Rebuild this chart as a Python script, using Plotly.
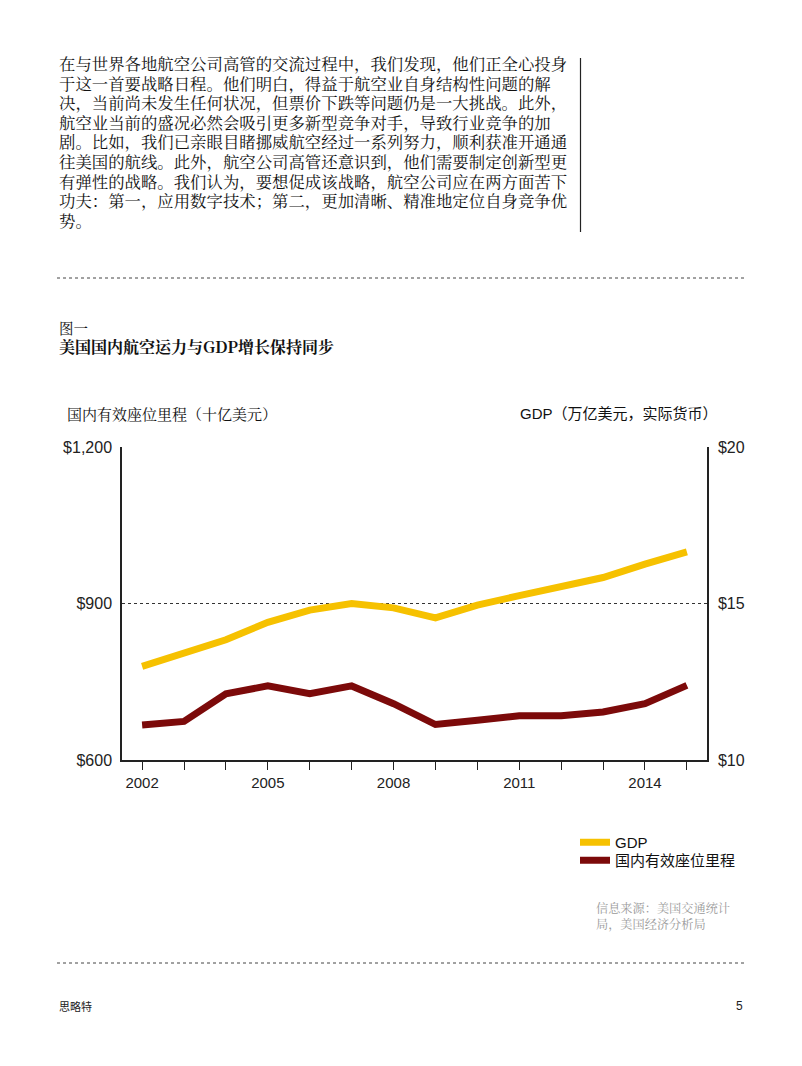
import plotly.graph_objects as go

# ---------------- data ----------------
years = list(range(2002, 2016))
gdp_trillion = [12.99, 13.41, 13.84, 14.40, 14.79, 15.00, 14.86, 14.54, 14.95, 15.25, 15.55, 15.83, 16.26, 16.65]
asm_billion = [667, 674, 727, 742, 727, 742, 708, 668, 676, 685, 685, 692, 708, 743]
x_labeled_years = [2002, 2005, 2008, 2011, 2014]
left_tick_vals = [600, 900, 1200]
left_tick_text = ["$600", "$900", "$1,200"]
right_tick_vals = [10, 15, 20]
right_tick_text = ["$10", "$15", "$20"]

series_names = ["GDP", "国内有效座位里程"]

body_lines = [
    "在与世界各地航空公司高管的交流过程中，我们发现，他们正全心投身",
    "于这一首要战略日程。他们明白，得益于航空业自身结构性问题的解",
    "决，当前尚未发生任何状况，但票价下跌等问题仍是一大挑战。此外，",
    "航空业当前的盛况必然会吸引更多新型竞争对手，导致行业竞争的加",
    "剧。比如，我们已亲眼目睹挪威航空经过一系列努力，顺利获准开通通",
    "往美国的航线。此外，航空公司高管还意识到，他们需要制定创新型更",
    "有弹性的战略。我们认为，要想促成该战略，航空公司应在两方面苦下",
    "功夫：第一，应用数字技术；第二，更加清晰、精准地定位自身竞争优",
    "势。",
]
fig_label = "图一"
fig_title = "美国国内航空运力与GDP增长保持同步"
left_axis_title = "国内有效座位里程（十亿美元）"
right_axis_title = "GDP（万亿美元，实际货币）"
source_lines = ["信息来源：美国交通统计", "局，美国经济分析局"]
footer_left = "思略特"
footer_right = "5"

# ---------------- layout helpers (page pixel coords) ----------------
OFF = 8  # default body margin of the html page
W, H = 794, 1058
L, R, T, B = 122, 707, 447, 760


def px(x):
    return (x - L) / (R - L)


def py(y):
    return (B - y) / (B - T)


CJK_SERIF = "Noto Serif CJK SC, Noto Sans CJK SC, sans-serif"
CJK_SANS = "Noto Sans CJK SC, sans-serif"
LAT_CJK = "Liberation Sans, Arial, Noto Sans CJK SC, sans-serif"
NARROW = "Liberation Sans Narrow, Arial Narrow, Liberation Sans, Arial, sans-serif"
YELLOW = "#F6C100"
DARKRED = "#7C0A0A"
INK = "#222222"

fig = go.Figure()

fig.add_trace(go.Scatter(
    x=years, y=gdp_trillion, name=series_names[0], yaxis="y2", mode="lines",
    line=dict(color=YELLOW, width=7), hoverinfo="skip", legend="legend",
))
fig.add_trace(go.Scatter(
    x=years, y=asm_billion, name=series_names[1], yaxis="y", mode="lines",
    line=dict(color=DARKRED, width=7), hoverinfo="skip", legend="legend2",
))

annotations = []
for i, line in enumerate(body_lines):
    annotations.append(dict(
        text=line, x=px(57), y=py(63 + 19.6 * i), xref="paper", yref="paper",
        xanchor="left", yanchor="middle", showarrow=False,
        font=dict(family=CJK_SERIF, size=16.4, color="#111111"),
    ))
annotations += [
    dict(text=fig_label, x=px(57), y=py(327), xref="paper", yref="paper",
         xanchor="left", yanchor="middle", showarrow=False,
         font=dict(family=CJK_SERIF, size=14.5, color="#111111")),
    dict(text="<b>" + fig_title + "</b>", x=px(57), y=py(346.5), xref="paper", yref="paper",
         xanchor="left", yanchor="middle", showarrow=False,
         font=dict(family=CJK_SERIF, size=16, color="#111111")),
    dict(text=left_axis_title, x=px(65), y=py(413), xref="paper", yref="paper",
         xanchor="left", yanchor="middle", showarrow=False,
         font=dict(family=CJK_SERIF, size=15, color="#111111")),
    dict(text=right_axis_title, x=px(720), y=py(413), xref="paper", yref="paper",
         xanchor="right", yanchor="middle", showarrow=False,
         font=dict(family=LAT_CJK, size=15, color="#111111")),
    dict(text=footer_left, x=px(57), y=py(1006), xref="paper", yref="paper",
         xanchor="left", yanchor="middle", showarrow=False,
         font=dict(family=CJK_SANS, size=11, color="#222222")),
    dict(text=footer_right, x=px(745), y=py(1006), xref="paper", yref="paper",
         xanchor="right", yanchor="middle", showarrow=False,
         font=dict(family="Liberation Sans, Arial, sans-serif", size=12, color="#222222")),
    dict(text="<br>".join(source_lines), x=px(594), y=py(897), xref="paper", yref="paper",
         xanchor="left", yanchor="top", align="left", showarrow=False,
         font=dict(family=CJK_SERIF, size=12.2, color="#9a9a9a")),
]

shapes = [
    # vertical rule right of paragraph
    dict(type="line", xref="paper", yref="paper", x0=px(580.5), x1=px(580.5),
         y0=py(58), y1=py(232), line=dict(color="#222222", width=1.2)),
    # dotted separators
    dict(type="line", xref="paper", yref="paper", x0=px(57), x1=px(745),
         y0=py(278), y1=py(278), line=dict(color="#444444", width=1, dash="dot")),
    dict(type="line", xref="paper", yref="paper", x0=px(57), x1=px(745),
         y0=py(963), y1=py(963), line=dict(color="#444444", width=1, dash="dot")),
]

legend_common = dict(
    xanchor="left", yanchor="top",
    font=dict(family=LAT_CJK, size=15, color="#111111"),
    bgcolor="rgba(0,0,0,0)", itemwidth=30,
)

fig.update_layout(
    width=W, height=H,
    margin=dict(l=L - OFF, r=W - (R - OFF), t=T - OFF, b=H - (B - OFF), pad=0),
    paper_bgcolor="white", plot_bgcolor="white",
    showlegend=True,
    legend=dict(x=px(575), y=py(826), **legend_common),
    legend2=dict(x=px(575), y=py(844), **legend_common),
    xaxis=dict(
        range=[2001.52, 2015.48], tickmode="array", tickvals=years,
        ticktext=[str(y) if y in x_labeled_years else "" for y in years],
        ticks="outside", ticklen=8, tickwidth=1.2, tickcolor=INK,
        showline=True, linecolor=INK, linewidth=1.5, showgrid=False, zeroline=False,
        tickfont=dict(family=NARROW, size=15, color=INK), fixedrange=True,
    ),
    yaxis=dict(
        range=[600, 1200], tickmode="array", tickvals=left_tick_vals, ticktext=left_tick_text,
        showline=True, linecolor=INK, linewidth=1.5, ticks="",
        showgrid=True, gridcolor="#333333", gridwidth=1, griddash="dot", zeroline=False,
        tickfont=dict(family=NARROW, size=16, color=INK), ticklabelstandoff=5,
        fixedrange=True,
    ),
    yaxis2=dict(
        range=[10, 20], tickmode="array", tickvals=right_tick_vals, ticktext=right_tick_text,
        overlaying="y", side="right", showline=True, linecolor=INK, linewidth=1.5, ticks="",
        showgrid=False, zeroline=False,
        tickfont=dict(family=NARROW, size=16, color=INK), ticklabelstandoff=6,
        fixedrange=True,
    ),
    annotations=annotations,
    shapes=shapes,
)

fig.write_html("out.html")
